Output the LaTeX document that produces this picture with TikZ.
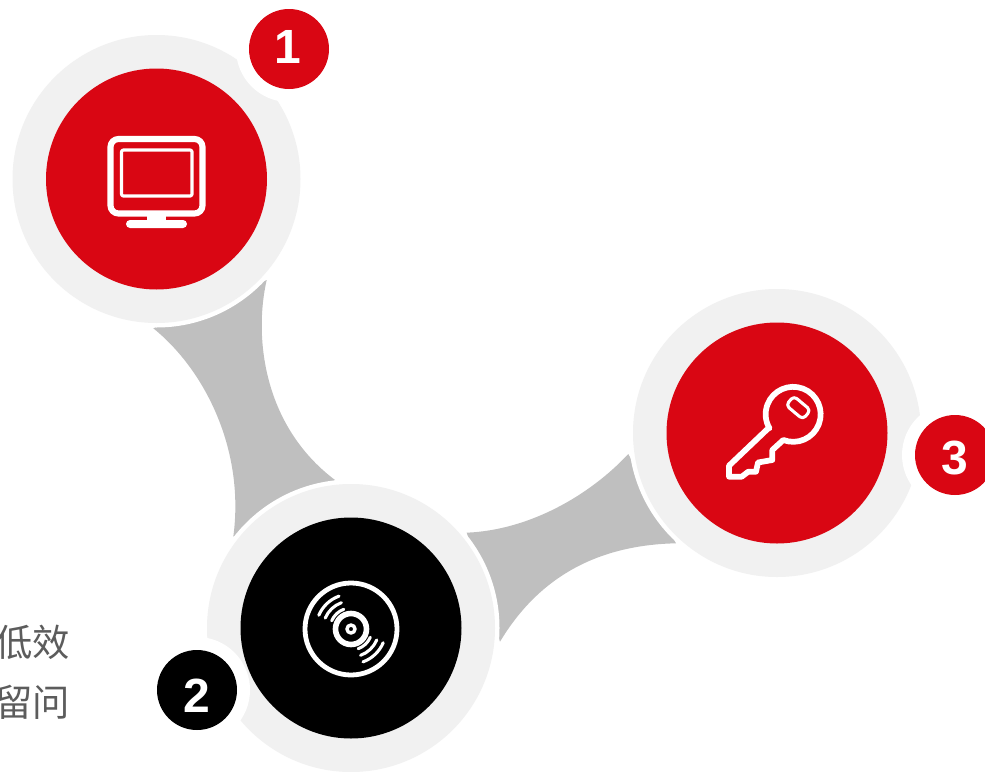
\documentclass[tikz,border=0pt]{standalone}
\usepackage{fontspec}
\setmainfont{Liberation Sans}
\newfontfamily\cjk{Noto Sans CJK SC}
\definecolor{myred}{HTML}{D90613}
\definecolor{myring}{HTML}{F1F1F1}
\definecolor{mygray}{HTML}{BFBFBF}
\definecolor{mytext}{HTML}{5C5C5C}
\tikzset{
  halo/.style={circle,fill=white,draw=none,minimum size=222.75pt,inner sep=0pt},
  ringdisc/.style={circle,fill=myring,draw=none,minimum size=216pt,inner sep=0pt},
  core/.style={circle,fill=#1,draw=none,minimum size=165.75pt,inner sep=0pt},
  badgehalo/.style={circle,fill=white,draw=none,minimum size=79.5pt,inner sep=0pt},
  badge/.style={circle,fill=#1,draw=none,minimum size=60pt,inner sep=0pt},
  digit/.style={inner sep=0pt,text=white,font=\fontsize{36}{36}\selectfont\bfseries},
  link/.style={fill=mygray,draw=none},
  icon/.style={draw=white,fill=none,line join=round,line cap=round},
  note/.style={text=mytext,anchor=east,inner sep=0pt,font=\cjk\fontsize{28}{28}\selectfont}
}
\begin{document}
\begin{tikzpicture}[x=0.75pt,y=0.75pt]
\useasboundingbox (0,0) rectangle (985,-771);
\clip (0,0) rectangle (985,-771);
% anchors of the connectors
\coordinate (c1a) at (266.7,-280);
\coordinate (c1b) at (335,-480);
\coordinate (c1c) at (233.3,-536.7);
\coordinate (c1d) at (153.3,-328.3);
\coordinate (c2a) at (466.7,-532.7);
\coordinate (c2b) at (628.3,-454);
\coordinate (c2c) at (676,-543.3);
\coordinate (c2d) at (500,-641.7);
% connectors
\fill[link] (c1a) .. controls (254,-335) and (262,-425) .. (c1b) -- (c1c)
  .. controls (245,-450) and (205,-370) .. (c1d) -- cycle;
\fill[link] (c2a) .. controls (530,-530) and (590,-495) .. (c2b) -- (c2c)
  .. controls (600,-545) and (540,-575) .. (c2d) -- cycle;
% discs
\node[halo] (h1) at (156.5,-179) {};
\node[halo] (h2) at (351,-628) {};
\node[halo] (h3) at (777,-433) {};
\node[ringdisc] (r1) at (h1) {};
\node[ringdisc] (r2) at (h2) {};
\node[ringdisc] (r3) at (h3) {};
\node[badgehalo] (bh1) at (289,-49) {};
\node[badgehalo] (bh2) at (197,-690) {};
\node[badgehalo] (bh3) at (955,-455) {};
\node[core=myred] (k1) at (h1) {};
\node[core=black] (k2) at (h2) {};
\node[core=myred] (k3) at (h3) {};
\node[badge=myred] (b1) at (bh1) {};
\node[badge=black] (b2) at (bh2) {};
\node[badge=myred] (b3) at (bh3) {};
\node[digit] (d1) at (288,-46.5) {1};
\node[digit] (d2) at (197.3,-696) {2};
\node[digit] (d3) at (955.3,-458) {3};
% monitor icon
\draw[icon,line width=4.6pt,rounded corners=6pt] (110.5,-139) rectangle (202.5,-213.5);
\draw[icon,line width=2.4pt,rounded corners=1.5pt] (121.5,-150) rectangle (192,-196);
\fill[white] (147,-214) rectangle (166,-222);
\fill[white,rounded corners=3pt] (126,-220) rectangle (187,-228);
% disc icon
\begin{scope}[shift={(351,-629)}]
  \draw[icon,line width=3.6pt] (0,0) circle[radius=46];
  \draw[icon,line width=4.2pt] (0,0) circle[radius=15.5];
  \draw[icon,line width=2.6pt] (0,0) circle[radius=4];
  \foreach \r in {21,28,35} {
    \draw[icon,line width=2.3pt] (110:\r) arc[start angle=110,end angle=157,radius=\r];
    \draw[icon,line width=2.3pt] (290:\r) arc[start angle=290,end angle=337,radius=\r];
  }
\end{scope}
% key icon
\draw[icon,line width=4.3pt] (768.3,-428.3) -- (729,-465.7) -- (729,-476.7) -- (741.7,-476.7)
  -- (748.3,-471.7) -- (756,-471.7) -- (758,-462.5) -- (772.3,-460) -- (772.3,-450) -- (783.3,-440)
  arc[start angle=-111,end angle=210.6,radius=27.5] -- cycle;
\draw[icon,line width=2.3pt,rounded corners=3pt,rotate around={-40:(798.3,-407.7)}]
  (787.3,-401.7) rectangle (809.3,-413.7);
% clipped text
\node[note] (t1) at (70,-642) {低效};
\node[note] (t2) at (70,-702) {留问};
\end{tikzpicture}
\end{document}
